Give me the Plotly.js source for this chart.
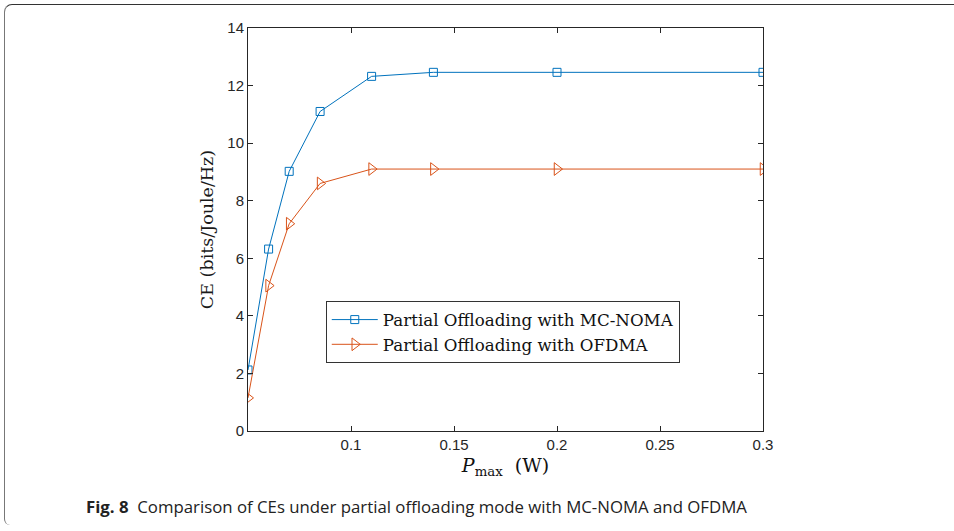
<!DOCTYPE html>
<html>
<head>
<meta charset="utf-8">
<script src="https://cdn.plot.ly/plotly-3.0.1.min.js"></script>
<style>
html,body{margin:0;padding:0;background:#fff;}
#wrap{position:relative;width:954px;height:531px;overflow:hidden;}
#frame{position:absolute;left:4px;top:4px;width:960px;height:520px;border-top:1.5px solid #333;border-left:1px solid #777;border-top-left-radius:8px;border-bottom-left-radius:6px;pointer-events:none;}
#chart{position:absolute;left:0;top:0;width:954px;height:531px;}
</style>
</head>
<body>
<div id="wrap">
<div id="chart"></div>
<div id="frame"></div>
</div>
<script>
const pmax = [0.05, 0.06, 0.07, 0.085, 0.11, 0.14, 0.2, 0.3];
const ceNoma = [2.12, 6.32, 9.02, 11.1, 12.32, 12.46, 12.46, 12.46];
const ceOfdma = [1.15, 5.05, 7.2, 8.6, 9.1, 9.1, 9.1, 9.1];
const seriesNames = ['Partial Offloading with MC-NOMA', 'Partial Offloading with OFDMA'];
const xTicks = [0.1, 0.15, 0.2, 0.25, 0.3];
const xTickText = ['0.1', '0.15', '0.2', '0.25', '0.3'];
const yTicks = [0, 2, 4, 6, 8, 10, 12, 14];

const traces = [
  {x: pmax, y: ceNoma, name: seriesNames[0], type: 'scatter', mode: 'lines+markers',
   line: {color: '#0072BD', width: 1},
   marker: {symbol: 'square-open', size: 8, color: '#0072BD', line: {width: 1}}},
  {x: pmax, y: ceOfdma, name: seriesNames[1], type: 'scatter', mode: 'lines+markers',
   line: {color: '#D95319', width: 1},
   marker: {symbol: 'triangle-right-open', size: 11, color: '#D95319', line: {width: 1}}}
];

const layout = {
  width: 954, height: 531,
  margin: {l: 248, r: 191, t: 28, b: 100},
  paper_bgcolor: '#ffffff', plot_bgcolor: '#ffffff',
  showlegend: true,
  legend: {x: 0.151, y: 0.322, xanchor: 'left', yanchor: 'top',
    bordercolor: '#333', borderwidth: 1, bgcolor: '#fff',
    itemwidth: 46,
    font: {family: 'DejaVu Serif, Liberation Serif, serif', size: 16.7, color: '#111'},
    tracegroupgap: 0},
  xaxis: {range: [0.05, 0.3], tickvals: xTicks, ticktext: xTickText,
    ticks: 'inside', ticklen: 5, tickcolor: '#262626', mirror: 'ticks',
    showline: true, linecolor: '#262626', linewidth: 1, showgrid: false, zeroline: false,
    tickfont: {family: 'Liberation Sans, Arial, sans-serif', size: 15, color: '#262626'},
    title: {text: '<i>P</i><sub>max</sub>  (W)', standoff: 6,
      font: {family: 'DejaVu Serif, Liberation Serif, serif', size: 19, color: '#111'}}},
  yaxis: {range: [0, 14], tickvals: yTicks,
    ticks: 'inside', ticklen: 5, tickcolor: '#262626', mirror: 'ticks',
    showline: true, linecolor: '#262626', linewidth: 1, showgrid: false, zeroline: false,
    tickfont: {family: 'Liberation Sans, Arial, sans-serif', size: 15, color: '#262626'},
    title: {text: 'CE (bits/Joule/Hz)', standoff: 9,
      font: {family: 'DejaVu Serif, Liberation Serif, serif', size: 17.5, color: '#1a1a1a'}}},
  annotations: [{
    xref: 'paper', yref: 'paper', x: -0.318, y: -0.155, xanchor: 'left', yanchor: 'top',
    showarrow: false, align: 'left',
    text: '<b>Fig. 8</b>  Comparison of CEs under partial offloading mode with MC-NOMA and OFDMA',
    font: {family: 'Open Sans, Noto Sans, sans-serif', size: 16.8, color: '#222'}
  }]
};

Plotly.newPlot('chart', traces, layout, {displayModeBar: false, staticPlot: true});
</script>
</body>
</html>
